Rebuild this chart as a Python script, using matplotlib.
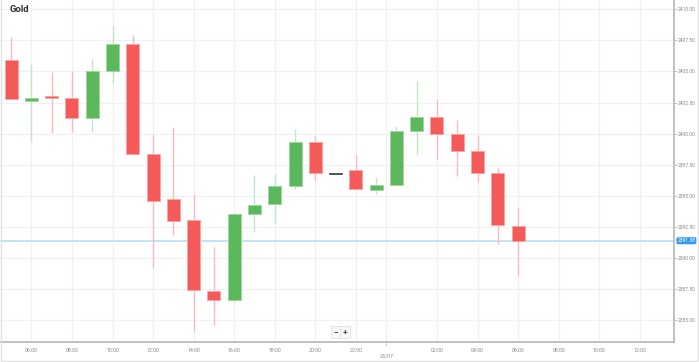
import numpy as np
import matplotlib.pyplot as plt
from matplotlib.patches import Rectangle
from matplotlib.transforms import blended_transform_factory

plt.rcParams["font.family"] = ["Roboto", "DejaVu Sans"]

# hourly candles, 22/07 05:00 -> 23/07 06:00
opens = [2405.92, 2402.65, 2403.03, 2402.89, 2401.23, 2405.00, 2407.18, 2398.36,
         2394.74, 2393.05, 2387.36, 2386.59, 2393.53, 2394.31, 2395.78, 2399.30,
         2396.78, 2397.05, 2395.46, 2395.86, 2400.23, 2401.31, 2399.99, 2398.60,
         2396.83, 2392.59]
highs = [2407.75, 2405.60, 2404.96, 2405.04, 2406.00, 2408.68, 2407.93, 2400.00,
         2400.50, 2395.12, 2390.85, 2393.60, 2396.67, 2396.75, 2400.37, 2399.78,
         2396.80, 2398.36, 2396.48, 2400.59, 2404.26, 2402.76, 2401.09, 2399.91,
         2397.20, 2394.12]
lows = [2402.76, 2399.35, 2400.02, 2400.15, 2400.15, 2403.97, 2398.38, 2389.16,
        2391.84, 2384.14, 2384.60, 2386.48, 2392.11, 2392.78, 2395.52, 2396.19,
        2396.75, 2395.52, 2395.14, 2395.86, 2398.28, 2397.93, 2396.59, 2396.13,
        2391.12, 2388.57]
closes = [2402.76, 2402.89, 2402.86, 2401.23, 2405.00, 2407.18, 2398.38, 2394.58,
          2393.00, 2387.42, 2386.59, 2393.51, 2394.23, 2395.78, 2399.30, 2396.79,
          2396.78, 2395.52, 2395.86, 2400.21, 2401.31, 2399.99, 2398.60, 2396.83,
          2392.65, 2391.38]

x_tick_pos = [1, 3, 5, 7, 9, 11, 13, 15, 17, 21, 23, 25, 27, 29, 31]
x_tick_labels = ["06:00", "08:00", "10:00", "12:00", "14:00", "16:00", "18:00", "20:00",
                 "22:00", "02:00", "04:00", "06:00", "08:00", "10:00", "12:00"]
day_pos = 18.5
day_label = "23/07"
y_ticks = [2385.0, 2387.5, 2390.0, 2392.5, 2395.0, 2397.5, 2400.0, 2402.5, 2405.0,
           2407.5, 2410.0]
last_price = 2391.38

RED = "#f55a5a"
GREEN = "#5cb85c"
RED_WICK = "#f8bcbc"
GREEN_WICK = "#c4e6c4"
GRID = "#f1f1f1"
TXT = "#8a8a8a"

W, H = 699, 362
fig = plt.figure(figsize=(W / 100, H / 100), dpi=100)
ax = fig.add_axes([0, 20 / H, 674 / W, 342 / H])

x = np.arange(len(opens))
o = np.array(opens)
c = np.array(closes)
up = c > o
down = c < o
face = np.where(up, GREEN, np.where(down, RED, "#555555"))
wick = np.where(up, GREEN_WICK, np.where(down, RED_WICK, "#999999"))

ax.vlines(x, lows, highs, colors=wick, linewidth=1, zorder=2)
body_bottom = np.minimum(o, c)
body_height = np.maximum(np.abs(c - o), 0.07)
ax.bar(x, body_height, bottom=body_bottom, width=0.64, color=face,
       edgecolor=np.where(up, "#9fd89f", np.where(down, "#fca4a4", "#555555")),
       linewidth=0.7, zorder=3)

ax.set_xlim(-0.55, 32.69)
ax.set_ylim(2383.23, 2410.75)

# grid
for yt in y_ticks:
    ax.axhline(yt, color=GRID, linewidth=0.9, zorder=0)
for xt in x_tick_pos + [day_pos]:
    ax.axvline(xt, color=GRID, linewidth=0.9, zorder=0)

# current price line
ax.axhline(last_price, color="#bfe0f6", linewidth=1.3, zorder=1)
tr = blended_transform_factory(ax.transAxes, ax.transData)
ax.text(1.005, last_price, f"{last_price:.2f}", transform=tr, fontsize=3.6,
        color="white", va="center", ha="left", zorder=5,
        bbox=dict(boxstyle="round,pad=0.2,rounding_size=0.3", fc="#2f9bea", ec="none"))

# axes styling
for side in ["top", "left"]:
    ax.spines[side].set_visible(False)
ax.spines["bottom"].set_color("#b5b5b5")
ax.spines["right"].set_color("#b5b5b5")
ax.spines["bottom"].set_linewidth(1.2)
ax.spines["right"].set_linewidth(1.2)

ax.yaxis.tick_right()
ax.set_yticks(y_ticks)
ax.set_yticklabels([f"{v:.2f}" for v in y_ticks])
ax.tick_params(axis="y", length=2, width=0.6, color="#b5b5b5", labelsize=3.6,
               labelcolor=TXT, pad=1)
ax.set_xticks(x_tick_pos)
ax.set_xticklabels(x_tick_labels)
ax.tick_params(axis="x", length=0, labelsize=3.8, labelcolor=TXT, pad=4)

ax.annotate(day_label, xy=(day_pos, 0), xycoords=("data", "axes fraction"),
            xytext=(0, -10), textcoords="offset points", ha="center", va="center",
            fontsize=3.8, color=TXT, annotation_clip=False)
ax.plot([day_pos, day_pos], [0, -0.01], transform=blended_transform_factory(ax.transData, ax.transAxes),
        color="#b5b5b5", linewidth=0.6, clip_on=False)

ax.text(10 / 674, 1 - 10 / 342, "Gold", transform=ax.transAxes, fontsize=6.8,
        fontweight="bold", color="#333333", ha="left", va="center")

# zoom buttons
ax.text(336 / 674, 1 - 332 / 342, "\u2212", transform=ax.transAxes, fontsize=6,
        fontweight="bold", color="#444444", ha="center", va="center",
        bbox=dict(boxstyle="square,pad=0.3", fc="#f7f7f7", ec="#dddddd", lw=0.5))
ax.text(345 / 674, 1 - 332 / 342, "+", transform=ax.transAxes, fontsize=6,
        fontweight="bold", color="#444444", ha="center", va="center",
        bbox=dict(boxstyle="square,pad=0.3", fc="#f7f7f7", ec="#dddddd", lw=0.5))

# outer frame
fig.patches.append(Rectangle((1 / W, 1 / H), 697 / W, 1.2, transform=fig.transFigure,
                             fill=False, edgecolor="#e2e2e2", linewidth=1))

fig.savefig("out.png", dpi=100)
